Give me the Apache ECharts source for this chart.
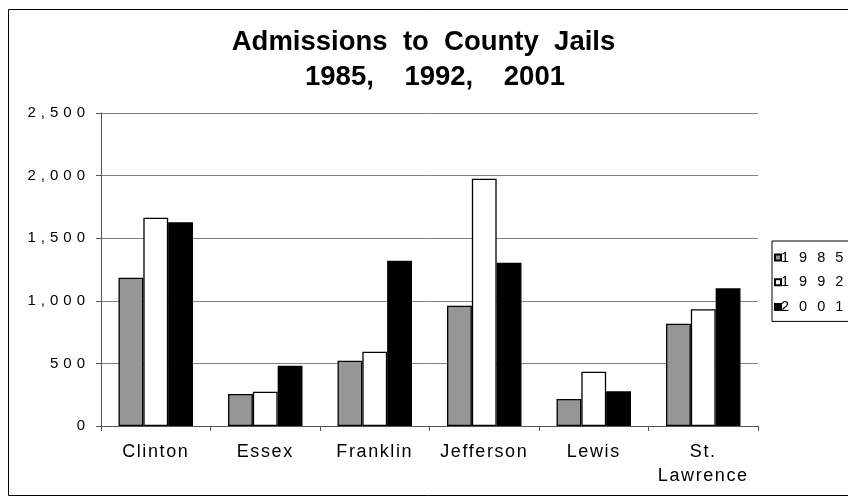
<!DOCTYPE html>
<html>
<head>
<meta charset="utf-8">
<script src="https://cdn.jsdelivr.net/npm/echarts@6/dist/echarts.min.js"></script>
<style>html,body{margin:0;padding:0;background:#fff}#c{width:848px;height:501px}</style>
</head>
<body>
<div id="c"></div>
<script>
var categories = ['Clinton', 'Essex', 'Franklin', 'Jefferson', 'Lewis', 'St.\nLawrence'];
var seriesNames = ['1985', '1992', '2001'];
var values1985 = [1184, 256, 522, 961, 216, 817];
var values1992 = [1664, 274, 594, 1975, 434, 932];
var values2001 = [1627, 482, 1320, 1304, 277, 1100];
var yTicks = [0, 500, 1000, 1500, 2000, 2500];
var titleLine1 = 'Admissions  to  County  Jails';
var titleLine2 = '1985,    1992,    2001';

var FONT = '"Liberation Sans", Arial, sans-serif';
var colors = ['#969696', '#ffffff', '#000000'];
var allValues = [values1985, values1992, values2001];

// letter spacing by font size (the reference text is widely tracked)
var spacingBySize = {'15px': '5px', '14.5px': '10px', '18px': '1.6px'};
(function () {
  var proto = CanvasRenderingContext2D.prototype;
  var orig = proto.fillText;
  proto.fillText = function (t, x, y, m) {
    var f = this.font || '';
    var ls = '0px';
    for (var k in spacingBySize) {
      if (f.indexOf(' ' + k + ' ') >= 0 || f.indexOf(k + ' ') === 0) { ls = spacingBySize[k]; }
    }
    if ('letterSpacing' in this) this.letterSpacing = ls;
    var r = m === undefined ? orig.call(this, t, x, y) : orig.call(this, t, x, y, m);
    if ('letterSpacing' in this) this.letterSpacing = '0px';
    return r;
  };
})();

var chart = echarts.init(document.getElementById('c'), null, {renderer: 'canvas'});
chart.setOption({
  animation: false,
  backgroundColor: '#ffffff',
  graphic: [
    {type: 'rect', shape: {x: 8.5, y: 9.5, width: 850, height: 486}, style: {fill: 'none', stroke: '#000', lineWidth: 1}, z: -1},
    {type: 'text', x: 423.5, y: 42, style: {text: titleLine1, font: 'bold 27.5px ' + FONT, fill: '#000', align: 'center', verticalAlign: 'middle'}},
    {type: 'text', x: 435, y: 77, style: {text: titleLine2, font: 'bold 27.5px ' + FONT, fill: '#000', align: 'center', verticalAlign: 'middle'}}
  ],
  grid: {left: 101, right: 90, top: 113, bottom: 75, containLabel: false},
  legend: {
    orient: 'vertical',
    left: 772, top: 241,
    icon: 'rect', itemWidth: 6, itemHeight: 6, itemGap: 7.7,
    padding: [8, 45, 6, 2],
    borderColor: '#000', borderWidth: 1,
    textStyle: {fontFamily: FONT, fontSize: 14.5, lineHeight: 17, color: '#000', padding: [0, 0, 0, -5]},
    data: seriesNames
  },
  xAxis: {
    type: 'category',
    data: categories,
    axisLine: {lineStyle: {color: '#555', width: 1}},
    axisTick: {show: true, length: 5, lineStyle: {color: '#555'}},
    axisLabel: {fontFamily: FONT, fontSize: 18, color: '#000', margin: 14.5, lineHeight: 24, interval: 0}
  },
  yAxis: {
    type: 'value',
    min: 0, max: 2500, interval: 500,
    axisLine: {show: true, lineStyle: {color: '#555', width: 1}},
    axisTick: {show: true, length: 5, lineStyle: {color: '#555'}},
    splitLine: {lineStyle: {color: '#808080', width: 1}},
    axisLabel: {fontFamily: FONT, fontSize: 15, color: '#000', margin: 11, padding: [3, 0, 0, 0],
      formatter: function (v) { return yTicks.indexOf(v) >= 0 ? v.toLocaleString('en-US') : ''; }}
  },
  series: seriesNames.map(function (n, i) {
    return {
      name: n, type: 'bar', data: allValues[i],
      barGap: '0%', barCategoryGap: '32%',
      itemStyle: {color: colors[i], borderColor: '#000', borderWidth: 1.3}
    };
  })
});
</script>
</body>
</html>
